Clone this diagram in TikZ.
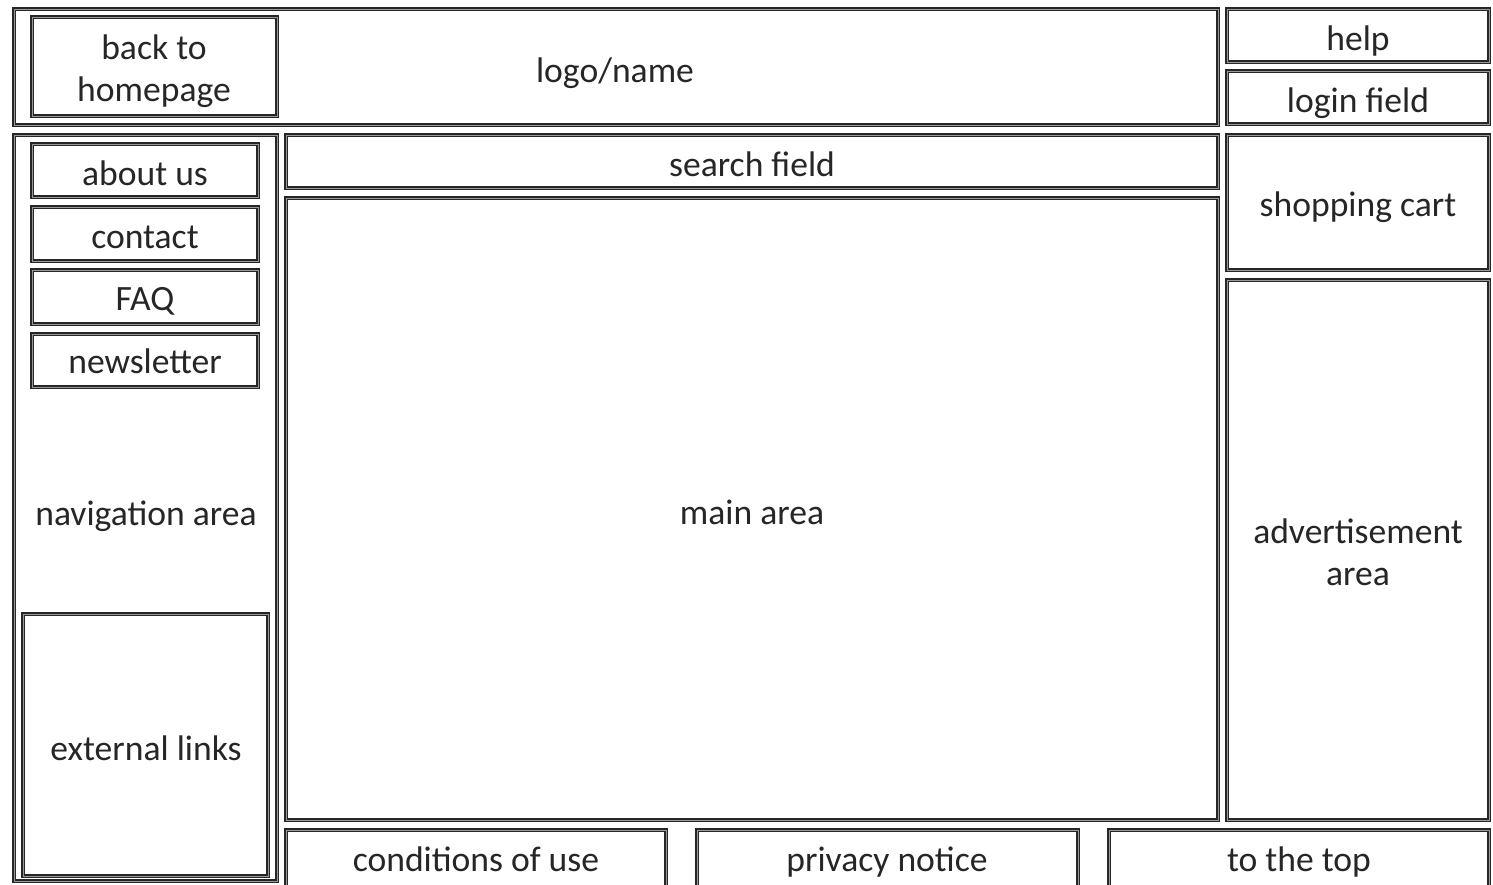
\documentclass[tikz,border=0pt]{standalone}
\usepackage{fontspec}
\setmainfont{Carlito}
\usetikzlibrary{fit}
\begin{document}
\begin{tikzpicture}[x=0.5pt,y=-0.5pt,
  box/.style={draw=black!85, line width=0.55pt, double=black!40, double distance=0.5pt, inner sep=0pt},
  lbl/.style={inner sep=0pt, anchor=base, font=\fontsize{17.8}{21}\selectfont, text=black!85}]
\useasboundingbox (0,0) rectangle (1493,884);
\clip (0,0) rectangle (1493,884);
\fill[white] (0,0) rectangle (1493,884);
% header
\node[box, fit={(14,9)(1218,125)}] (header) {};
\node[lbl] (logo) at (615,82) {logo/name};
\node[box, fit={(32,17)(277,116)}] (home) {};
\node[lbl] (home1) at (154,59) {back to};
\node[lbl] (home2) at (154,101) {homepage};
\node[box, fit={(1227,9)(1489,62)}] (help) {};
\node[lbl] (helplbl) at (1358,50) {help};
\node[box, fit={(1227,71)(1489,124)}] (login) {};
\node[lbl] (loginlbl) at (1358,112) {login field};
% navigation
\node[box, fit={(14,135)(277,881)}] (nav) {};
\node[box, fit={(32,144)(258,197)}] (about) {};
\node[lbl] at (145,185) {about us};
\node[box, fit={(32,207)(258,261)}] (contact) {};
\node[lbl] at (145,248) {contact};
\node[box, fit={(32,270)(258,324)}] (faq) {};
\node[lbl] at (145,310) {FAQ};
\node[box, fit={(32,334)(258,387)}] (news) {};
\node[lbl] at (145,373) {newsletter};
\node[lbl] (navlbl) at (146,525) {navigation area};
\node[box, fit={(23,614)(268,876)}] (ext) {};
\node[lbl] at (146,760) {external links};
% centre
\node[box, fit={(286,135)(1218,188)}] (search) {};
\node[lbl] at (752,176) {search field};
\node[box, fit={(286,198)(1218,820)}] (main) {};
\node[lbl] at (752,524) {main area};
% right
\node[box, fit={(1227,135)(1489,270)}] (cart) {};
\node[lbl] at (1358,216) {shopping cart};
\node[box, fit={(1227,280)(1489,820)}] (ad) {};
\node[lbl] at (1358,543) {advertisement};
\node[lbl] at (1358,585) {area};
% footer
\node[box, fit={(286,830)(666,905)}] (cond) {};
\node[lbl] (condlbl) at (476,871) {conditions of use};
\node[box, fit={(697,830)(1078,905)}] (priv) {};
\node[lbl] (privlbl) at (887,871) {privacy notice};
\node[box, fit={(1109,830)(1489,905)}] (top) {};
\node[lbl] (toplbl) at (1299,871) {to the top};
\end{tikzpicture}
\end{document}
